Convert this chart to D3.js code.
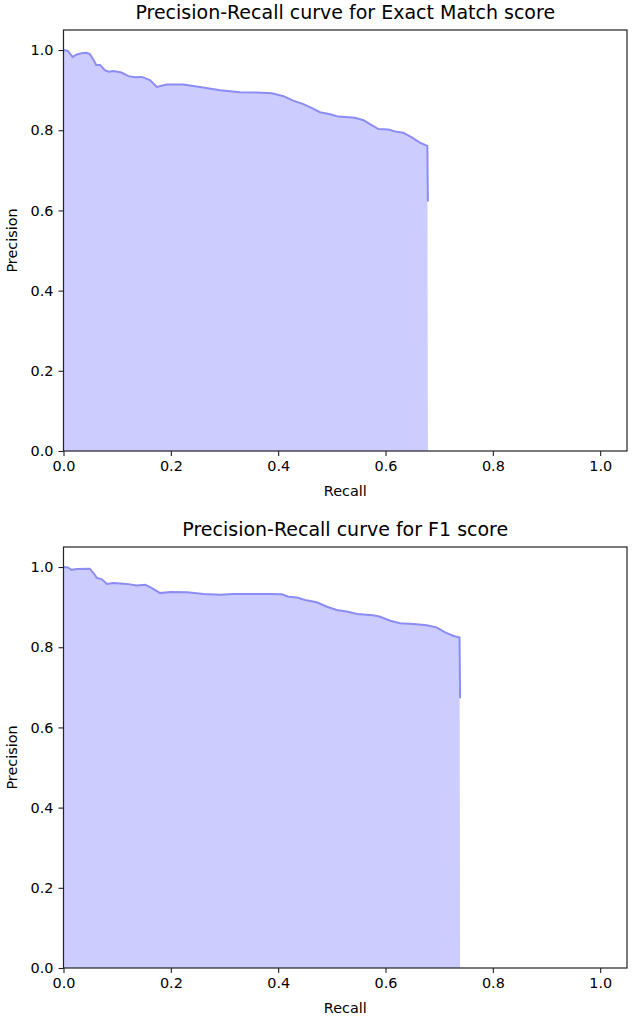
<!DOCTYPE html>
<html>
<head>
<meta charset="utf-8">
<script src="https://cdn.jsdelivr.net/npm/d3@7"></script>
<style>
  body { margin: 0; background: #fff; }
  svg text { font-family: "DejaVu Sans", sans-serif; fill: #000; }
</style>
</head>
<body>
<div id="grafica"></div>
<script>
// recall / precision (step curve, last point is the drop)
var recallEM = [0, 0.008, 0.017, 0.025, 0.034, 0.043, 0.049, 0.056, 0.061, 0.068, 0.077, 0.084,
  0.093, 0.108, 0.121, 0.133, 0.146, 0.161, 0.174, 0.192, 0.223, 0.254, 0.292, 0.329, 0.360,
  0.388, 0.410, 0.428, 0.447, 0.463, 0.478, 0.497, 0.512, 0.543, 0.559, 0.574, 0.587, 0.605,
  0.621, 0.633, 0.649, 0.664, 0.678, 0.679]
var precisionEM = [1.0, 0.998, 0.983, 0.989, 0.992, 0.993, 0.990, 0.975, 0.963, 0.963, 0.950, 0.946,
  0.948, 0.944, 0.935, 0.932, 0.933, 0.925, 0.908, 0.914, 0.914, 0.908, 0.900, 0.895, 0.894,
  0.892, 0.885, 0.874, 0.865, 0.855, 0.845, 0.840, 0.834, 0.831, 0.825, 0.813, 0.803, 0.802,
  0.796, 0.794, 0.782, 0.769, 0.761, 0.622]

var recallF1 = [0, 0.008, 0.015, 0.025, 0.049, 0.056, 0.062, 0.071, 0.081, 0.093, 0.118, 0.136,
  0.152, 0.164, 0.180, 0.199, 0.230, 0.261, 0.292, 0.316, 0.348, 0.385, 0.407, 0.419, 0.435,
  0.450, 0.472, 0.491, 0.509, 0.528, 0.547, 0.577, 0.590, 0.609, 0.627, 0.652, 0.677, 0.696,
  0.711, 0.727, 0.738, 0.739]
var precisionF1 = [1.0, 0.999, 0.993, 0.995, 0.996, 0.985, 0.973, 0.970, 0.958, 0.960, 0.958, 0.954,
  0.956, 0.948, 0.935, 0.938, 0.937, 0.933, 0.931, 0.933, 0.933, 0.933, 0.932, 0.926, 0.924,
  0.918, 0.912, 0.901, 0.893, 0.889, 0.883, 0.880, 0.876, 0.866, 0.860, 0.858, 0.855, 0.849,
  0.837, 0.828, 0.824, 0.673]

var titulos = ['Precision-Recall curve for Exact Match score', 'Precision-Recall curve for F1 score']
var ticks = [0, 0.2, 0.4, 0.6, 0.8, 1.0]

var ancho = 633, alto = 1017
var svg = d3.select('#grafica').append('svg')
  .attr('width', ancho).attr('height', alto)

function graficar(recall, precision, titulo, top) {
  var left = 63.5, right = 627, height = 421
  var datos = recall.map(function (r, i) { return { r: r, p: precision[i] } })
  var ultimo = datos.length - 1

  var x = d3.scaleLinear().domain([0, 1.05]).range([left, right])
  var y = d3.scaleLinear().domain([0, 1.05]).range([top + height, top])

  var g = svg.append('g')

  // relleno
  g.append('path')
    .datum(datos)
    .attr('fill', 'rgb(204,204,255)')
    .attr('d', d3.area()
      .x(function (d) { return x(d.r) })
      .y0(y(0))
      .y1(function (d, i) { return i === ultimo ? y(0) : y(d.p) }))

  // linea
  g.append('path')
    .datum(datos)
    .attr('fill', 'none')
    .attr('stroke', 'rgb(140,140,245)')
    .attr('stroke-width', 2)
    .attr('d', d3.line()
      .x(function (d) { return x(d.r) })
      .y(function (d) { return y(d.p) }))

  // ejes
  var ejeX = g.append('g')
    .attr('transform', 'translate(0,' + y(0) + ')')
    .call(d3.axisBottom(x).tickValues(ticks).tickFormat(d3.format('.1f')).tickSize(5).tickPadding(5))
  var ejeY = g.append('g')
    .attr('transform', 'translate(' + left + ',0)')
    .call(d3.axisLeft(y).tickValues(ticks).tickFormat(d3.format('.1f')).tickSize(5).tickPadding(5))
  ;[ejeX, ejeY].forEach(function (e) {
    e.select('.domain').remove()
    e.selectAll('line').attr('stroke', '#222').attr('stroke-width', 1.1)
    e.selectAll('text').style('font-size', '14.4px').style('font-family', '"DejaVu Sans", sans-serif').attr('fill', '#222')
  })

  // marco
  g.append('rect')
    .attr('x', left).attr('y', top)
    .attr('width', right - left).attr('height', height)
    .attr('fill', 'none').attr('stroke', '#222').attr('stroke-width', 1.2)

  g.append('text')
    .attr('x', (left + right) / 2).attr('y', top - 11)
    .attr('text-anchor', 'middle')
    .style('font-size', '19px')
    .text(titulo)

  g.append('text')
    .attr('x', (left + right) / 2).attr('y', top + height + 45)
    .attr('text-anchor', 'middle')
    .style('font-size', '14.4px')
    .text('Recall')

  g.append('text')
    .attr('transform', 'translate(17,' + (top + height / 2) + ') rotate(-90)')
    .attr('text-anchor', 'middle')
    .style('font-size', '14.4px')
    .text('Precision')
}

graficar(recallEM, precisionEM, titulos[0], 30)
graficar(recallF1, precisionF1, titulos[1], 547)
</script>
</body>
</html>
